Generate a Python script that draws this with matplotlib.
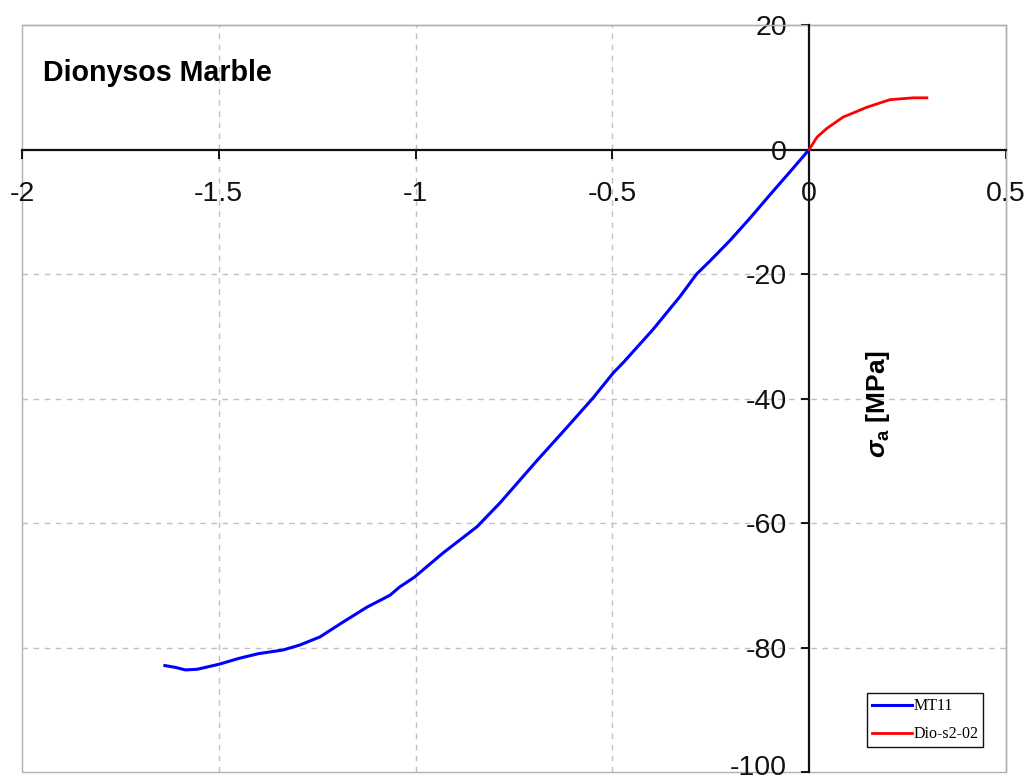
import numpy as np
import matplotlib
matplotlib.use('Agg')
import matplotlib.pyplot as plt
import matplotlib.transforms as mtransforms
from matplotlib.patches import Rectangle

plt.rcParams['font.family'] = ['Liberation Sans', 'DejaVu Sans']
plt.rcParams['axes.unicode_minus'] = False
plt.rcParams['mathtext.fontset'] = 'custom'
plt.rcParams['mathtext.it'] = 'Liberation Sans:italic:bold'
plt.rcParams['mathtext.rm'] = 'Liberation Sans:bold'

# stress-strain curves (strain in %, axial stress in MPa)
mt11_x = [-1.637, -1.610, -1.585, -1.555, -1.500, -1.446, -1.400, -1.337, -1.294,
          -1.243, -1.184, -1.123, -1.065, -1.041, -1.003, -0.930, -0.844, -0.786,
          -0.692, -0.615, -0.549, -0.498, -0.472, -0.398, -0.328, -0.286, -0.252,
          -0.201, -0.150, -0.100, -0.049, 0.0]
mt11_y = [-82.9, -83.2, -83.6, -83.5, -82.7, -81.7, -81.0, -80.4, -79.6,
          -78.3, -75.9, -73.5, -71.6, -70.3, -68.7, -64.8, -60.6, -56.8,
          -50.0, -44.6, -39.9, -35.9, -34.2, -29.0, -23.6, -20.0, -17.9,
          -14.6, -11.0, -7.3, -3.6, 0.0]
dio_x = [0.0, 0.020, 0.045, 0.086, 0.147, 0.205, 0.264, 0.299]
dio_y = [0.0, 2.0, 3.4, 5.2, 6.8, 8.0, 8.3, 8.3]

xticks = [-2, -1.5, -1, -0.5, 0, 0.5]
xlabels = ['-2', '-1.5', '-1', '-0.5', '0', '0.5']
yticks = [-100, -80, -60, -40, -20, 0, 20]

fig = plt.figure(figsize=(10.28, 7.84), dpi=100)
ax = fig.add_axes([22/1028, 12/784, 984/1028, 747/784])
ax.set_xlim(-2, 0.5); ax.set_ylim(-100, 20)

# grey outer frame
for s in ['top', 'right']:
    ax.spines[s].set_color('#b0b0b0'); ax.spines[s].set_linewidth(1)
ax.add_patch(Rectangle((0, 0), 1, 1, transform=ax.transAxes, fill=False,
                       ec='#b0b0b0', lw=1, zorder=0, clip_on=False))

# axes crossing at the origin
ax.spines['left'].set_position(('data', 0))
ax.spines['bottom'].set_position(('data', 0))
for s in ['left', 'bottom']:
    ax.spines[s].set_linewidth(1.6); ax.spines[s].set_color('#111111')
    ax.spines[s].set_zorder(3)

ax.set_xticks(xticks); ax.set_xticklabels(xlabels)
ax.set_yticks(yticks)
ax.tick_params(axis='x', direction='out', length=6.5, width=1.4, pad=16, labelsize=20.5, colors='#111111')
ax.tick_params(axis='y', direction='out', length=6, width=1.4, pad=10, labelsize=20.5, colors='#111111')

# nudge the lowest y label up so it stays inside the figure
lab = ax.get_yticklabels()[0]
lab.set_transform(lab.get_transform() + mtransforms.ScaledTranslation(0, 5/72, fig.dpi_scale_trans))

for gx in [-1.5, -1, -0.5]:
    ax.axvline(gx, color='#c0c0c0', lw=1, ls=(0, (4, 4)), zorder=0)
for gy in [-80, -60, -40, -20]:
    ax.axhline(gy, color='#c0c0c0', lw=1, ls=(0, (4, 4)), zorder=0)

ax.plot(mt11_x, mt11_y, color='#0000ff', lw=2.2, label='MT11', zorder=4)
ax.plot(dio_x, dio_y, color='#ff0000', lw=2.0, label='Dio-s2-02', zorder=4)

ax.text(21/984, 0.936, 'Dionysos Marble', transform=ax.transAxes, fontsize=20.6,
        fontweight='bold', va='center', ha='left')
ax.text(0.175, -40.9, r'$\sigma_\mathrm{a}$ [MPa]', rotation=90, fontsize=19,
        fontweight='bold', ha='center', va='center')

leg = ax.legend(loc='lower right', bbox_to_anchor=(0.977, 0.0335), borderaxespad=0,
                prop={'family': 'Liberation Serif', 'size': 11.5},
                handlelength=2.5, fancybox=False, framealpha=1,
                borderpad=0.3, labelspacing=0.75, handletextpad=0.1)
leg.get_frame().set_edgecolor('#111111'); leg.get_frame().set_linewidth(1)

fig.savefig('out.png', dpi=100)
